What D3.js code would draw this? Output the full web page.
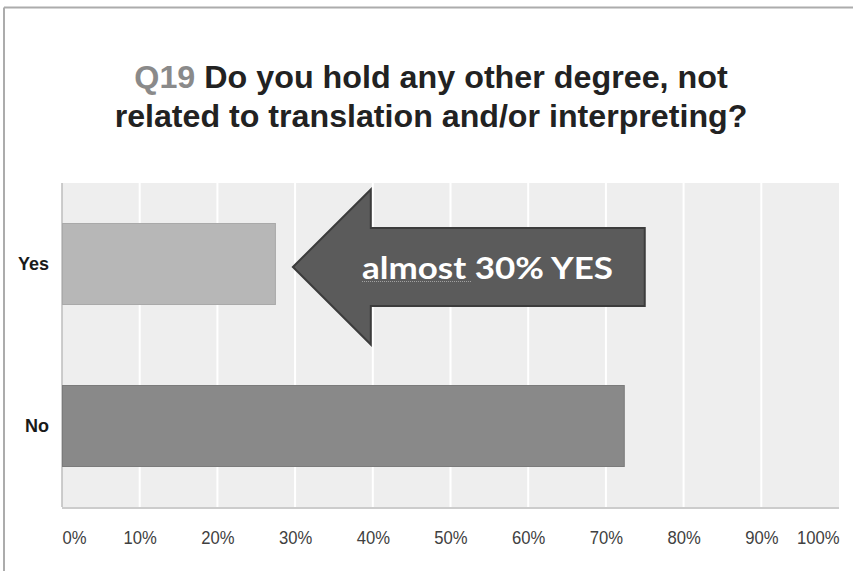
<!DOCTYPE html>
<html>
<head>
<meta charset="utf-8">
<script src="https://cdn.jsdelivr.net/npm/d3@7"></script>
<style>
  html, body { margin: 0; padding: 0; background: #ffffff; }
  svg { display: block; }
</style>
</head>
<body>
<script>
// Survey answers (percent of respondents)
const categories = ["Yes", "No"];
const values = [27.4, 72.3];
const tickValues = [0, 10, 20, 30, 40, 50, 60, 70, 80, 90, 100];
const titleQuestion = "Q19";
const titleLine1 = "Do you hold any other degree, not";
const titleLine2 = "related to translation and/or interpreting?";
const calloutText = "almost 30% YES";

const W = 853, H = 571;
const plot = { left: 62, right: 839, top: 183, bottom: 507 };

const svg = d3.select("body").append("svg")
  .attr("width", W).attr("height", H);

// frame around the chart
svg.append("line").attr("x1", 4).attr("x2", W).attr("y1", 7.5).attr("y2", 7.5)
  .attr("stroke", "#acacac").attr("stroke-width", 2);
svg.append("line").attr("x1", 4).attr("x2", 4).attr("y1", 7.5).attr("y2", H)
  .attr("stroke", "#acacac").attr("stroke-width", 2);

// squeeze a text element horizontally (about its own centre) to a given width
function fitText(sel, width) {
  const bb = sel.node().getBBox();
  const cx = bb.x + bb.width / 2;
  const s = width / bb.width;
  sel.attr("transform", `translate(${cx},0) scale(${s},1) translate(${-cx},0)`);
}
// squeeze by a fixed factor about an anchor x
function squeeze(sel, ax, s) {
  sel.attr("transform", `translate(${ax},0) scale(${s},1) translate(${-ax},0)`);
}

// title, two centred lines in a narrow bold face
const t1 = svg.append("text")
  .attr("x", 431).attr("y", 88)
  .attr("text-anchor", "middle")
  .style("font-family", "'Liberation Sans', Arial, sans-serif")
  .style("font-weight", "bold").style("font-size", "32px");
t1.append("tspan").attr("fill", "#8a8a8a").text(titleQuestion + " ");
t1.append("tspan").attr("fill", "#222222").text(titleLine1);
fitText(t1, 594);

const t2 = svg.append("text")
  .attr("x", 431).attr("y", 127)
  .attr("text-anchor", "middle")
  .attr("fill", "#222222")
  .style("font-family", "'Liberation Sans', Arial, sans-serif")
  .style("font-weight", "bold").style("font-size", "32px")
  .text(titleLine2);
fitText(t2, 633);

// scales
const x = d3.scaleLinear().domain([0, 100]).range([plot.left, plot.right]);
const y = d3.scaleBand().domain(categories)
  .range([plot.top, plot.bottom]).paddingInner(0.5).paddingOuter(0.25);

// plot background
svg.append("rect")
  .attr("x", plot.left).attr("y", plot.top)
  .attr("width", plot.right - plot.left).attr("height", plot.bottom - plot.top)
  .attr("fill", "#eeeeee");

// vertical gridlines
svg.append("g").selectAll("line")
  .data(tickValues.filter(v => v > 0 && v < 100))
  .join("line")
  .attr("x1", d => x(d)).attr("x2", d => x(d))
  .attr("y1", plot.top).attr("y2", plot.bottom)
  .attr("stroke", "#ffffff").attr("stroke-width", 2);

// left axis line
svg.append("line")
  .attr("x1", plot.left).attr("x2", plot.left)
  .attr("y1", plot.top).attr("y2", plot.bottom)
  .attr("stroke", "#bdbdbd").attr("stroke-width", 1.5);

// bars
const barFill = { Yes: "#b7b7b7", No: "#898989" };
const barStroke = { Yes: "#a9a9a9", No: "#7b7b7b" };
svg.append("g").selectAll("rect")
  .data(categories.map((c, i) => ({ c, v: values[i] })))
  .join("rect")
  .attr("x", x(0) + 0.5)
  .attr("y", d => y(d.c))
  .attr("width", d => x(d.v) - x(0))
  .attr("height", y.bandwidth())
  .attr("fill", d => barFill[d.c])
  .attr("stroke", d => barStroke[d.c]).attr("stroke-width", 1);

// bottom axis line
svg.append("line")
  .attr("x1", plot.left).attr("x2", plot.right)
  .attr("y1", plot.bottom + 1).attr("y2", plot.bottom + 1)
  .attr("stroke", "#cccccc").attr("stroke-width", 2);

// x axis labels (end labels kept inside the plot edges)
const xAxis = d3.axisBottom(x).tickValues(tickValues)
  .tickSize(0).tickPadding(0).tickFormat(d => d + "%");
const gx = svg.append("g").attr("transform", `translate(0,${plot.bottom})`).call(xAxis);
gx.select(".domain").remove();
gx.selectAll(".tick").each(function (d) {
  const txt = d3.select(this).select("text")
    .attr("y", 37).attr("dy", 0)
    .attr("fill", "#404040")
    .style("font-family", "'Liberation Sans', Arial, sans-serif")
    .style("font-size", "18.5px")
    .attr("text-anchor", d === 0 ? "start" : d === 100 ? "end" : "middle");
  squeeze(txt, 0, 0.9);
});

// y axis labels
const yAxis = d3.axisLeft(y).tickSize(0).tickPadding(0);
const gy = svg.append("g").attr("transform", `translate(49,0)`).call(yAxis);
gy.select(".domain").remove();
gy.selectAll("text")
  .attr("dy", "0.36em").attr("x", 0)
  .attr("fill", "#1a1a1a")
  .style("font-family", "'Liberation Sans', Arial, sans-serif")
  .style("font-weight", "bold").style("font-size", "18px");

// callout arrow pointing at the Yes bar
const yesVal = values[categories.indexOf("Yes")];
const cy = y("Yes") + y.bandwidth() / 2 + 3;
const tipX = x(yesVal) + 18;
const neckX = x(40) - 2;
const tailX = x(75);
const headHalf = 77.5, shaftHalf = 39;
const arrowPts = [
  [tipX, cy],
  [neckX, cy - headHalf],
  [neckX, cy - shaftHalf],
  [tailX, cy - shaftHalf],
  [tailX, cy + shaftHalf],
  [neckX, cy + shaftHalf],
  [neckX, cy + headHalf]
];
svg.append("path")
  .attr("d", d3.line()(arrowPts) + "Z")
  .attr("fill", "#5b5b5b")
  .attr("stroke", "#3c3c3c").attr("stroke-width", 2)
  .attr("stroke-linejoin", "miter");

const ct = svg.append("text")
  .attr("x", 487.5).attr("y", cy + 12)
  .attr("text-anchor", "middle")
  .attr("fill", "#ffffff")
  .style("font-family", "Lato, 'Open Sans', sans-serif")
  .style("font-weight", "bold").style("font-size", "31px")
  .text(calloutText);
fitText(ct, 251);

// dotted proofing underline beneath the first word
svg.append("line")
  .attr("x1", 362).attr("x2", 472)
  .attr("y1", cy + 14.5).attr("y2", cy + 14.5)
  .attr("stroke", "#a0a0a0").attr("stroke-width", 1)
  .attr("stroke-dasharray", "1,1");
</script>
</body>
</html>
